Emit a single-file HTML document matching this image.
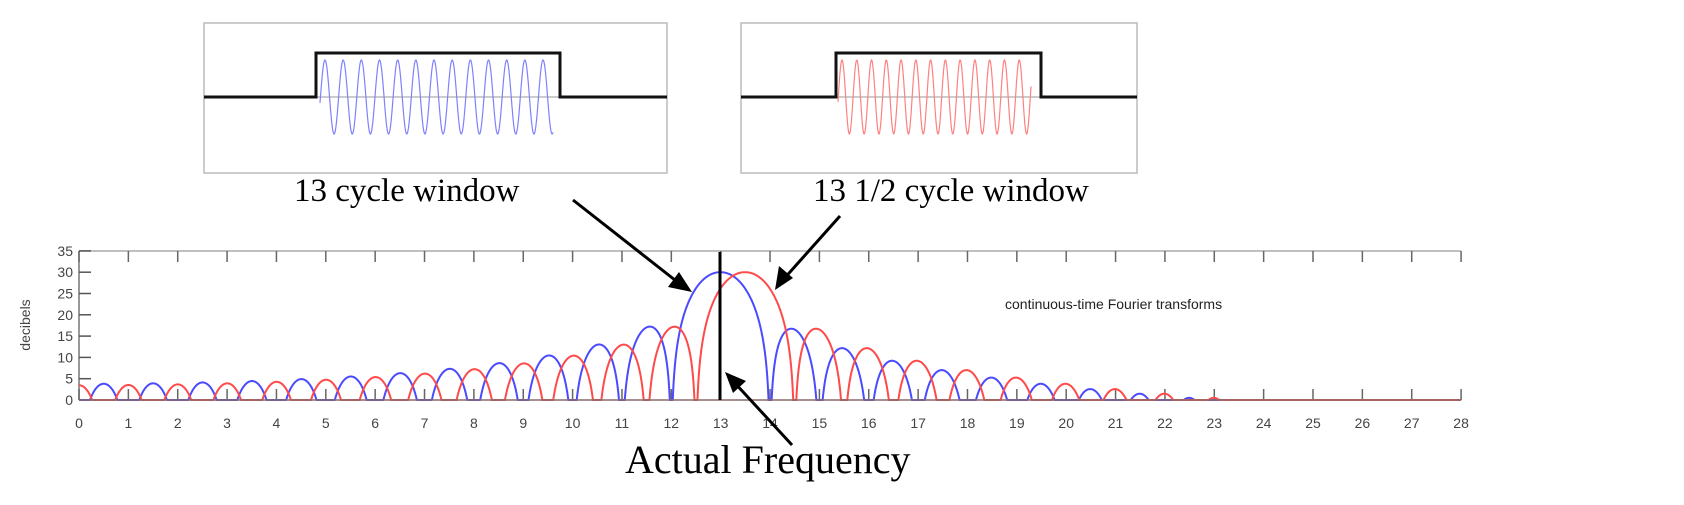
<!DOCTYPE html>
<html><head><meta charset="utf-8"><style>
html,body{margin:0;padding:0;background:#fff;width:1684px;height:505px;overflow:hidden}
svg{display:block}
.t{font-family:"Liberation Sans",Arial,sans-serif;fill:#444;font-size:14px}
.s{font-family:"Liberation Serif",serif;fill:#000}
</style></head><body>
<svg id="sv" width="1684" height="505" viewBox="0 0 1684 505" xmlns="http://www.w3.org/2000/svg">
<rect x="204" y="23" width="463" height="150" fill="none" stroke="#bbb" stroke-width="1.5"/>
<rect x="741" y="23" width="396" height="150" fill="none" stroke="#bbb" stroke-width="1.5"/>
<line x1="316" y1="97" x2="560" y2="97" stroke="#999" stroke-width="1"/>
<line x1="836" y1="97" x2="1041" y2="97" stroke="#999" stroke-width="1"/>
<path id="sin1" fill="none" stroke="#8080ff" stroke-width="1.2"/>
<path id="sin2" fill="none" stroke="#ff8080" stroke-width="1.2"/>
<polyline points="204,97 316,97 316,53 560,53 560,97 667,97" fill="none" stroke="#111" stroke-width="3"/>
<polyline points="741,97 836,97 836,53 1041,53 1041,97 1137,97" fill="none" stroke="#111" stroke-width="3"/>
<text class="s" x="294" y="201" font-size="33">13 cycle window</text>
<text class="s" x="813" y="201" font-size="33">13 1/2 cycle window</text>
<line x1="79" y1="251" x2="1461" y2="251" stroke="#aaa" stroke-width="1.5"/>
<line x1="79" y1="251" x2="79" y2="400" stroke="#777" stroke-width="1.5"/>
<g id="ticks"></g>
<path id="blue" fill="none" stroke="#4a4aff" stroke-width="2"/>
<path id="red" fill="none" stroke="#ff4a4a" stroke-width="2"/>
<line x1="79" y1="400" x2="1461" y2="400" stroke="#8a6a6a" stroke-width="1.5"/>
<line x1="720" y1="252" x2="720" y2="400" stroke="#000" stroke-width="3"/>
<text class="t" x="1005" y="309" font-size="18" style="fill:#222">continuous-time Fourier transforms</text>
<text class="t" transform="translate(30,325) rotate(-90)" text-anchor="middle" font-size="17">decibels</text>
<g stroke="#000" stroke-width="3" fill="#000">
<line x1="573" y1="200" x2="680" y2="284"/>
<polygon points="692,292 668,287 679,272" stroke="none"/>
<line x1="840" y1="216" x2="782" y2="281"/>
<polygon points="775,290 779,266 793,278" stroke="none"/>
<line x1="792" y1="445" x2="733" y2="381"/>
<polygon points="725,372 746,381 733,393" stroke="none"/>
</g>
<text class="s" x="625" y="473" font-size="40">Actual Frequency</text>
</svg>
<script>
var NS="http://www.w3.org/2000/svg",tk=document.getElementById('ticks');
function X(f){return 79+f*49.36}
function Y(d){return 400-d*21.3/5}
function el(n,a,txt){var e=document.createElementNS(NS,n);for(var k in a)e.setAttribute(k,a[k]);if(txt!=null)e.textContent=txt;tk.appendChild(e);return e}
for(var i=0;i<=28;i++){var x=X(i);
 el('line',{x1:x,y1:251,x2:x,y2:262,stroke:'#666','stroke-width':1.5});
 el('line',{x1:x,y1:389,x2:x,y2:400,stroke:'#666','stroke-width':1.5});
 el('text',{x:x,y:428,'text-anchor':'middle','class':'t'},String(i));}
for(var d=0;d<=35;d+=5){var y=Y(d);
 el('line',{x1:79,y1:y,x2:91,y2:y,stroke:'#555','stroke-width':1.5});
 el('text',{x:73,y:y+5,'text-anchor':'end','class':'t','font-size':15},String(d));}
function E(a,T){if(Math.abs(a)<1e-9)return[T,0];var th=2*Math.PI*a*T;return[Math.sin(th)/(2*Math.PI*a),(1-Math.cos(th))/(2*Math.PI*a)]}
function spec(f0,T,id){var s='';for(var f=0;f<=28;f+=0.005){var a=E(f0-f,T),b=E(-f0-f,T);var m;
 if(f<f0)m=Math.hypot(a[0]-b[0],a[1]-b[1])/T;else m=Math.hypot(a[0],a[1])/T;
 var db=30+20*Math.log10(Math.max(m,1e-9));if(db<0)db=0;s+=(s?'L':'M')+X(f).toFixed(2)+' '+Y(db).toFixed(2);}
 document.getElementById(id).setAttribute('d',s)}
spec(13,1,'blue');spec(13.5,1,'red');
function sn(id,x0,x1,p,ph){var s='';for(var x=x0;x<=x1;x+=0.5){s+=(s?'L':'M')+x+' '+(97-37*Math.cos(2*Math.PI*(x-ph)/p)).toFixed(2)}document.getElementById(id).setAttribute('d',s)}
sn('sin1',320,553,18.17,325);sn('sin2',838,1031,14.77,842);
</script>
</body></html>
